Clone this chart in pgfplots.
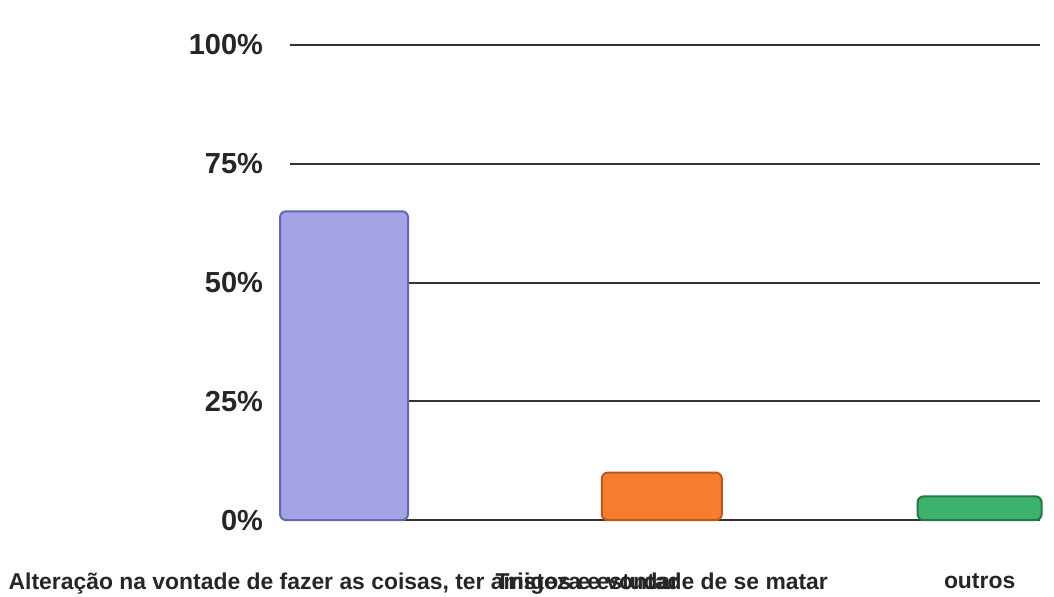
\documentclass[border=0pt]{standalone}
\usepackage{pgfplots}
\pgfplotsset{compat=1.18}
\usepackage{fontspec}
\setmainfont{Liberation Sans}
\definecolor{barblue}{HTML}{A4A3E6}
\definecolor{barblueD}{HTML}{6664B8}
\definecolor{barorange}{HTML}{F57E2E}
\definecolor{barorangeD}{HTML}{C0561C}
\definecolor{bargreen}{HTML}{3CB26B}
\definecolor{bargreenD}{HTML}{22784A}
\begin{document}
\begin{tikzpicture}
\useasboundingbox (0,0) rectangle (527pt,298pt);
\begin{axis}[
  at={(145pt,13pt)}, anchor=south west,
  scale only axis, width=375pt, height=262.5pt,
  xmin=-0.17, xmax=2.19, ymin=-10.5, ymax=100,
  clip=false,
  axis line style={draw=none},
  tick style={draw=none},
  ymajorgrids,
  grid style={line width=1pt, color=black!80},
  xtick={0,1,2},
  xticklabels={{Alteração na vontade de fazer as coisas, ter amigos e estudar}, {Tristeza e vontade de se matar}, {outros}},
  ytick={0,25,50,75,100},
  yticklabels={0\%,25\%,50\%,75\%,100\%},
  xticklabel style={font=\bfseries\fontsize{11.45}{13}\selectfont, text=black!85, yshift=2pt},
  yticklabel style={font=\bfseries\fontsize{14.5}{16}\selectfont, text=black!85, xshift=-10pt},
]
\addplot[ybar, bar shift=0pt, bar width=64pt, fill=barblue, draw=barblueD, line width=1pt, rounded corners=3pt] coordinates {(0,65)};
\addplot[ybar, bar shift=0pt, bar width=60pt, fill=barorange, draw=barorangeD, line width=1pt, rounded corners=3pt] coordinates {(1,10)};
\addplot[ybar, bar shift=0pt, bar width=62pt, fill=bargreen, draw=bargreenD, line width=1pt, rounded corners=3pt] coordinates {(2,5)};
\end{axis}
\end{tikzpicture}
\end{document}
